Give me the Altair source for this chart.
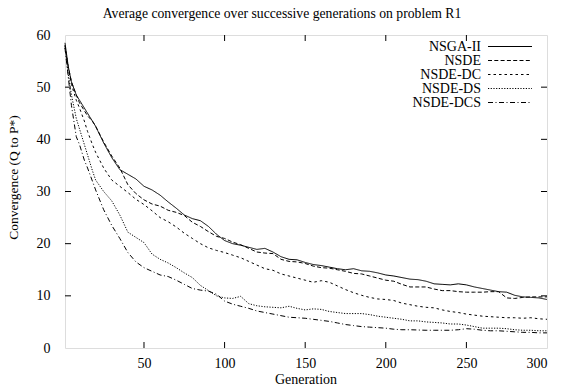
import altair as alt
import pandas as pd

generations = [1, 3, 5, 8, 10, 13, 15, 18, 20, 25, 30, 35, 40, 45, 50, 55, 60, 65, 70, 75,
               80, 85, 90, 95, 100, 105, 110, 115, 120, 125, 130, 135, 140, 145, 150, 155,
               160, 165, 170, 175, 180, 185, 190, 195, 200, 205, 210, 215, 220, 225, 230,
               235, 240, 245, 250, 255, 260, 265, 270, 275, 280, 285, 290, 295, 300]

nsga2 = [58.5, 54, 51, 48.5, 47.5, 46, 45, 43.5, 42.5, 39.3, 36.5, 34.2, 33.3, 32.4, 31.0,
         30.3, 29.3, 28.0, 26.8, 25.5, 24.8, 24.4, 23.3, 21.8, 20.6, 20.0, 19.7, 19.3, 18.9,
         19.1, 18.4, 17.5, 17.0, 16.9, 16.4, 16.0, 15.8, 15.5, 15.2, 15.0, 15.2, 14.8, 14.7,
         14.4, 14.0, 13.8, 13.5, 13.2, 13.1, 12.8, 12.3, 12.2, 12.1, 12.3, 12.1, 11.7, 11.4,
         11.1, 10.8, 10.7, 10.1, 9.8, 9.7, 9.6, 9.3]

nsde = [58, 54, 51, 48.5, 47, 45.5, 44.5, 43.5, 42.5, 39.5, 36.8, 34.5, 31.3, 29.6, 28.4,
        27.6, 27.2, 26.4, 26.0, 25.4, 24.1, 23.3, 22.3, 21.4, 21.0, 20.3, 19.8, 19.1, 18.4,
        18.2, 18.1, 17.0, 16.6, 16.5, 16.2, 15.7, 15.4, 15.3, 15.0, 14.7, 14.3, 14.2, 13.8,
        13.4, 13.0, 12.8, 12.2, 11.7, 11.7, 11.7, 11.3, 11.0, 11.0, 10.8, 10.7, 10.7, 10.7,
        10.8, 10.8, 9.6, 9.5, 9.7, 9.8, 9.8, 9.8]

nsde_dc = [58, 53.5, 50.5, 47.5, 46, 43.5, 41.5, 39, 37.5, 34.5, 32.2, 31.0, 29.8, 28.5,
           27.5, 26.3, 25.0, 24.2, 23.2, 22.0, 21.0, 20.0, 19.2, 18.7, 18.3, 17.8, 17.3,
           16.6, 15.9, 15.2, 14.9, 14.2, 13.8, 13.4, 13.0, 12.6, 12.9, 12.6, 11.9, 11.2,
           10.6, 10.1, 9.7, 9.4, 9.3, 9.1, 8.6, 8.3, 8.0, 7.8, 7.7, 7.3, 7.0, 6.8, 6.5, 6.3,
           6.1, 6.0, 5.9, 5.8, 5.8, 5.7, 5.8, 5.6, 5.5]

nsde_ds = [57.5, 52.5, 48.5, 44, 42, 39, 37, 34, 32.2, 30, 28.2, 25.5, 22.2, 21.2, 20.2,
           18.0, 17.0, 16.3, 15.4, 14.4, 13.5, 12.0, 11.0, 10.0, 9.6, 9.5, 9.9, 8.5, 8.1,
           7.9, 7.8, 7.7, 8.0, 7.6, 7.3, 7.5, 7.4, 7.0, 6.8, 6.6, 6.6, 6.6, 6.4, 6.1, 5.9,
           5.7, 5.5, 5.2, 5.2, 5.0, 4.9, 4.8, 4.6, 4.6, 4.4, 4.1, 3.8, 3.8, 3.8, 3.7, 3.5,
           3.4, 3.4, 3.3, 3.3]

nsde_dcs = [57.5, 52, 46.5, 40.5, 39, 36, 34.5, 32, 30.3, 26.5, 23.5, 21.0, 18.3, 16.5,
            15.4, 14.7, 14.0, 13.7, 13.0, 12.2, 11.4, 11.1, 10.9, 10.3, 9.0, 8.4, 8.0, 7.6,
            7.1, 6.8, 6.5, 6.2, 5.9, 5.8, 5.7, 5.5, 5.3, 5.1, 4.8, 4.5, 4.3, 4.1, 4.0, 3.9,
            3.8, 3.6, 3.5, 3.5, 3.45, 3.4, 3.4, 3.4, 3.4, 3.5, 3.7, 3.6, 3.4, 3.3, 3.3, 3.2,
            3.1, 3.0, 3.0, 2.9, 2.9]

series_names = ["NSGA-II", "NSDE", "NSDE-DC", "NSDE-DS", "NSDE-DCS"]
series_values = [nsga2, nsde, nsde_dc, nsde_ds, nsde_dcs]

x_ticks = [50, 100, 150, 200, 250, 300]
y_ticks = [0, 10, 20, 30, 40, 50, 60]

title_text = "Average convergence over successive generations on problem R1"
x_title = "Generation"
y_title = "Convergence (Q to P*)"

# ---------------------------------------------------------------------------
FONT = "Liberation Serif"
FS = 14
W, H = 482, 313
TICK = 6
dash_styles = [[1, 0], [4, 2.3], [2.5, 3], [1.2, 1.5], [5, 2.5, 1, 2.5]]

rows = []
for name, vals in zip(series_names, series_values):
    for g, v in zip(generations, vals):
        rows.append({"gen": g, "value": v, "series": name})
df = pd.DataFrame(rows)

xscale = alt.Scale(domain=[1, 300], nice=False, zero=False)
yscale = alt.Scale(domain=[0, 60], nice=False)

lines = alt.Chart(df).mark_line(color="black", strokeWidth=1).encode(
    x=alt.X("gen:Q", scale=xscale,
            axis=alt.Axis(values=x_ticks, ticks=False, tickSize=0, domain=False, grid=False,
                          labelFont=FONT, labelFontSize=FS, labelColor="black",
                          labelBaseline="alphabetic", labelPadding=19, title=None)),
    y=alt.Y("value:Q", scale=yscale,
            axis=alt.Axis(values=y_ticks, ticks=False, tickSize=0, domain=False, grid=False,
                          labelFont=FONT, labelFontSize=FS, labelColor="black",
                          labelPadding=15, title=None)),
    strokeDash=alt.StrokeDash("series:N",
                              scale=alt.Scale(domain=series_names, range=dash_styles),
                              legend=None),
    detail="series:N",
)

tick_x_df = pd.DataFrame({"t": x_ticks[:-1]})
tick_y_df = pd.DataFrame({"t": y_ticks[1:-1]})

bottom_ticks = alt.Chart(tick_x_df).mark_rule(color="black", strokeWidth=1).encode(
    x=alt.X("t:Q", scale=xscale), y=alt.value(H), y2=alt.value(H - TICK))
top_ticks = alt.Chart(tick_x_df).mark_rule(color="black", strokeWidth=1).encode(
    x=alt.X("t:Q", scale=xscale), y=alt.value(0), y2=alt.value(TICK))
left_ticks = alt.Chart(tick_y_df).mark_rule(color="black", strokeWidth=1).encode(
    y=alt.Y("t:Q", scale=yscale), x=alt.value(0), x2=alt.value(TICK))
right_ticks = alt.Chart(tick_y_df).mark_rule(color="black", strokeWidth=1).encode(
    y=alt.Y("t:Q", scale=yscale), x=alt.value(W), x2=alt.value(W - TICK))

layers = [lines, bottom_ticks, top_ticks, left_ticks, right_ticks]

# legend (gnuplot style: label then sample, inside top right)
for i, (name, dash) in enumerate(zip(series_names, dash_styles)):
    yc = 11.5 + 14 * i
    ld = alt.Data(values=[{"name": name}])
    layers.append(alt.Chart(ld).mark_text(font=FONT, fontSize=FS, align="right",
                                          baseline="middle", color="black").encode(
        text="name:N", x=alt.value(416), y=alt.value(yc)))
    layers.append(alt.Chart(ld).mark_rule(color="black", strokeWidth=1,
                                          strokeDash=dash).encode(
        x=alt.value(423), x2=alt.value(467), y=alt.value(yc)))

# titles
layers.append(alt.Chart(alt.Data(values=[{"t": title_text}])).mark_text(
    font=FONT, fontSize=13.7, align="center", baseline="alphabetic", color="black").encode(
    text="t:N", x=alt.value(217), y=alt.value(-17.5)))
layers.append(alt.Chart(alt.Data(values=[{"t": x_title}])).mark_text(
    font=FONT, fontSize=FS, align="center", baseline="alphabetic", color="black").encode(
    text="t:N", x=alt.value(W / 2), y=alt.value(348.5)))
layers.append(alt.Chart(alt.Data(values=[{"t": y_title}])).mark_text(
    font=FONT, fontSize=13.5, align="center", baseline="alphabetic", angle=270,
    color="black").encode(
    text="t:N", x=alt.value(-47.5), y=alt.value(142.5)))

chart = alt.layer(*layers).properties(
    width=W, height=H,
    padding={"left": 57, "top": 27, "right": 9, "bottom": 36},
    autosize=alt.AutoSizeParams(type="none"),
).configure_view(stroke="black", strokeWidth=1).configure(background="white")

chart.save("out.html", embed_options={"renderer": "svg", "actions": False})
